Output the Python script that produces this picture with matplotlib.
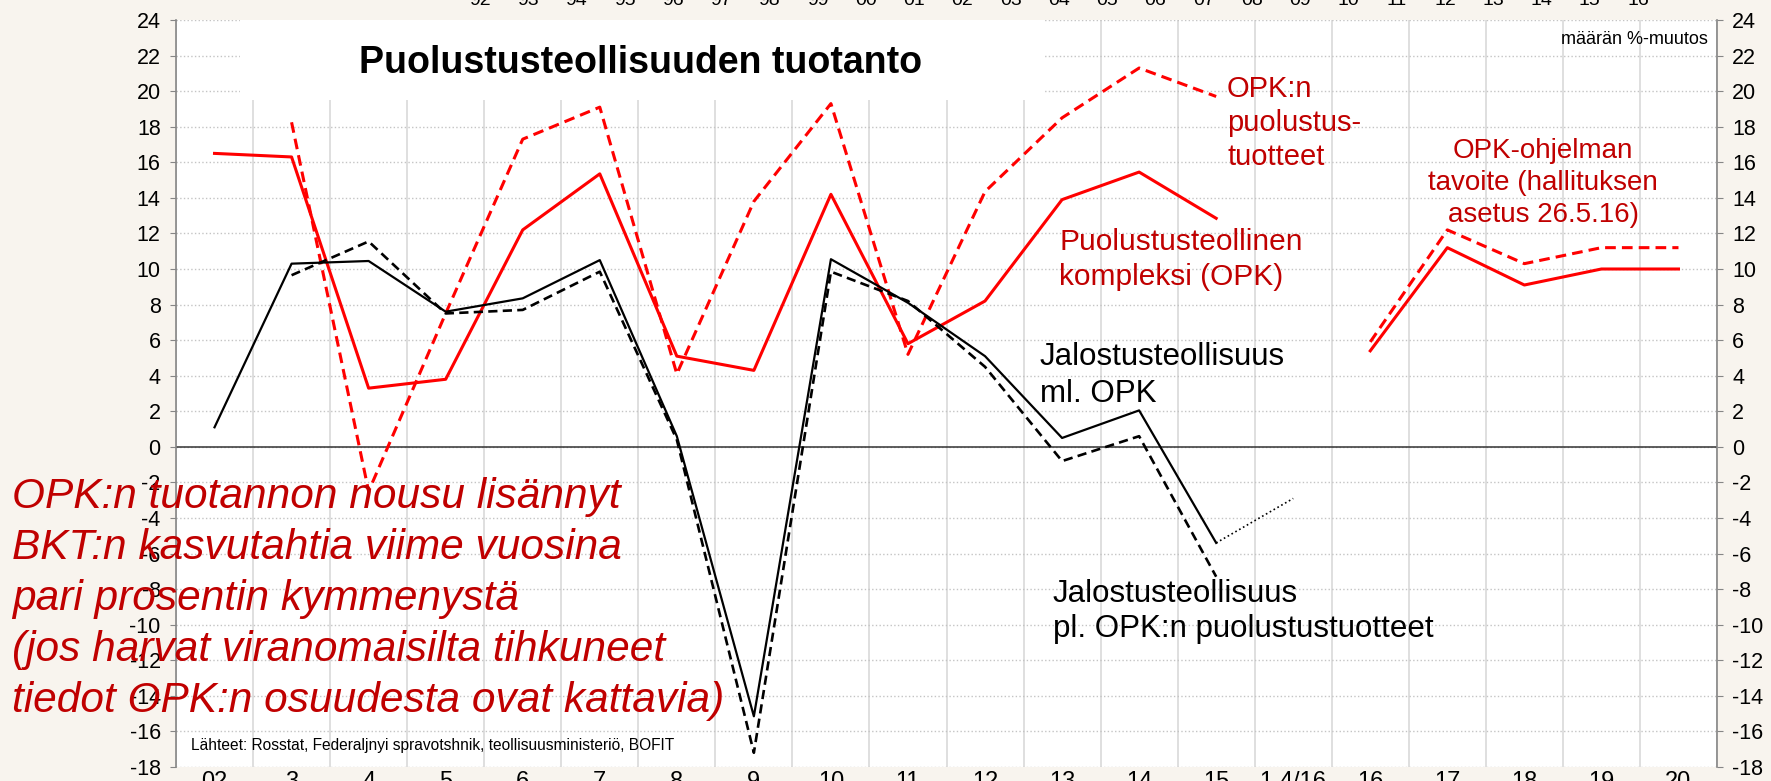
import numpy as np
import matplotlib
matplotlib.use('Agg')
import matplotlib.pyplot as plt
from matplotlib.patches import Rectangle

plt.rcParams['font.family'] = ['Liberation Sans', 'DejaVu Sans']
plt.rcParams['axes.unicode_minus'] = False

nan = np.nan

# Data (volume change, %)
categories = ['02', '3', '4', '5', '6', '7', '8', '9', '10', '11', '12', '13',
              '14', '15', '1-4/16', '16', '17', '18', '19', '20']
top_years = ['92', '93', '94', '95', '96', '97', '98', '99', '00', '01', '02',
             '03', '04', '05', '06', '07', '08', '09', '10', '11', '12', '13',
             '14', '15', '16']

# Puolustusteollinen kompleksi (OPK)
opk = [16.5, 16.3, 3.3, 3.8, 12.2, 15.35, 5.1, 4.3, 14.2, 5.8, 8.2, 13.9,
       15.45, 12.85, nan, 5.4, 11.2, 9.1, 10.0, 10.0]
# OPK:n puolustustuotteet
opk_def = [nan, 18.25, -2.5, 7.5, 17.3, 19.1, 4.1, 13.8, 19.3, 5.2, 14.35, 18.5,
           21.3, 19.7, nan, 5.9, 12.2, 10.3, 11.2, 11.2]
# Jalostusteollisuus ml. OPK
manuf = [1.1, 10.3, 10.45, 7.6, 8.35, 10.5, 0.6, -15.15, 10.55, 8.1, 5.1, 0.5,
         2.05, -5.4, nan, nan, nan, nan, nan, nan]
# Jalostusteollisuus ml. OPK, 1-4/16 estimate
manuf_est = [nan, nan, nan, nan, nan, nan, nan, nan, nan, nan, nan, nan,
             nan, -5.4, -2.9, nan, nan, nan, nan, nan]
# Jalostusteollisuus pl. OPK:n puolustustuotteet
manuf_ex = [nan, 9.65, 11.55, 7.5, 7.7, 9.85, 0.4, -17.2, 9.85, 8.2, 4.5, -0.8,
            0.6, -7.3, nan, nan, nan, nan, nan, nan]

W, H = 1771, 781
RED = '#ff0000'
RED_TXT = '#c00000'
GRAY = '#868686'


def fxy(px, py):
    # pixel position -> figure fraction
    return px / W, 1 - py / H


fig = plt.figure(figsize=(W / 100, H / 100), dpi=100, facecolor='#f8f4ee')
ax = fig.add_axes([176 / W, 1 - 767 / H, (1717 - 176) / W, (767 - 20) / H])
ax.set_facecolor('white')

x = np.arange(len(categories))
ax.set_xlim(-0.5, len(categories) - 0.5)
ax.set_ylim(-18, 24)
ax.set_yticks(range(-18, 25, 2))
ax.set_xticks(x)
ax.set_xticklabels(categories)
ax.set_xticks(np.arange(-0.5, len(categories), 1), minor=True)

ax.set_axisbelow(True)
ax.grid(axis='y', which='major', color='#c4c4c4', ls=':', lw=1)
ax.grid(axis='x', which='minor', color='#dcdcdc', ls='-', lw=1.3)
ax.tick_params(axis='x', which='both', length=0, labelsize=17, pad=3)
ax.tick_params(axis='y', left=True, right=True, labelleft=True, labelright=True,
               direction='out', length=4, color=GRAY, labelsize=15.5, pad=7)
for side in ['top', 'bottom']:
    ax.spines[side].set_visible(False)
for side in ['left', 'right']:
    ax.spines[side].set_color(GRAY)
    ax.spines[side].set_linewidth(1.2)

ax.axhline(0, color='#333333', lw=1.1, zorder=1.8)

# white title box hiding the grid
ax.add_patch(Rectangle((0.0415, 0.893), 0.5215, 0.107, transform=ax.transAxes,
                       facecolor='white', edgecolor='none', zorder=1.5))

ax.plot(x, opk, color=RED, lw=2.2, zorder=3)
ax.plot(x, opk_def, color=RED, lw=2.2, ls=(0, (3.5, 2)), zorder=3)
ax.plot(x, manuf, color='black', lw=1.6, zorder=4)
ax.plot(x, manuf_ex, color='black', lw=1.9, ls=(0, (3.5, 2)), zorder=4)
ax.plot(x, manuf_est, color='black', lw=1.2, ls=':', zorder=4)

# second category axis on top (years), mostly cut off by the figure edge
ax2 = ax.twiny()
ax2.set_xlim(-6.30, 25.64)
ax2.set_xticks(range(len(top_years)))
ax2.set_xticklabels(top_years, fontfamily=['Liberation Sans Narrow', 'Liberation Sans'])
ax2.tick_params(axis='x', length=0, labelsize=14, pad=8)
for s in ax2.spines.values():
    s.set_visible(False)


def lines(px, py, dy, rows, **kw):
    for i, row in enumerate(rows):
        fig.text(*fxy(px, py + i * dy), row, va='baseline', **kw)


fig.text(*fxy(641, 73), 'Puolustusteollisuuden tuotanto', ha='center',
         va='baseline', fontsize=27, fontweight='bold')
fig.text(*fxy(1708, 39), 'määrän %-muutos', ha='right', va='center', fontsize=13)

lines(1227, 97, 34, ['OPK:n', 'puolustus-', 'tuotteet'], color=RED_TXT, fontsize=21)
lines(1059, 250, 35, ['Puolustusteollinen', 'kompleksi (OPK)'], color=RED_TXT, fontsize=21.5)
lines(1543, 158, 32, ['OPK-ohjelman', 'tavoite (hallituksen', 'asetus 26.5.16)'],
      color=RED_TXT, fontsize=20, ha='center')
lines(1040, 365, 37, ['Jalostusteollisuus', 'ml. OPK'], fontsize=22.5)
lines(1053, 602, 35, ['Jalostusteollisuus', 'pl. OPK:n puolustustuotteet'], fontsize=22.5)

lines(12, 508, 51, ['OPK:n tuotannon nousu lisännyt',
                    'BKT:n kasvutahtia viime vuosina',
                    'pari prosentin kymmenystä',
                    '(jos harvat viranomaisilta tihkuneet',
                    'tiedot OPK:n osuudesta ovat kattavia)'],
      color=RED_TXT, fontsize=30.5, style='italic')

fig.text(*fxy(191, 750), 'Lähteet: Rosstat, Federaljnyi spravotshnik, teollisuusministeriö, BOFIT',
         va='baseline', fontsize=11.2)

fig.savefig('out.png', dpi=100, facecolor=fig.get_facecolor())
